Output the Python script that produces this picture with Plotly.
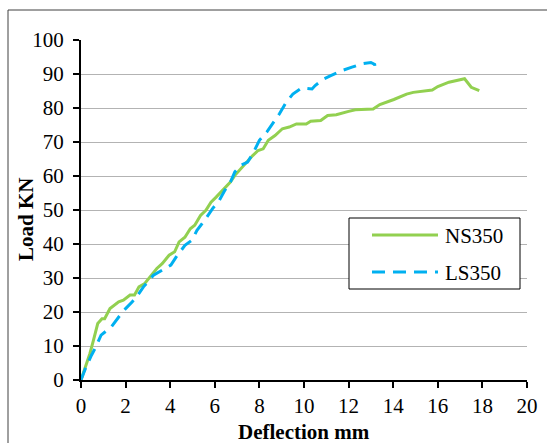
import plotly.graph_objects as go

ns_x = [0, 0.4, 0.56, 0.75, 0.94, 1.06, 1.3, 1.69, 1.9, 2.2, 2.4, 2.6, 2.86, 3.1, 3.4, 3.64,
        3.95, 4.2, 4.4, 4.66, 4.9, 5.1, 5.36, 5.6, 5.83, 6.06, 6.4, 6.7, 6.9, 7.16, 7.47, 7.7,
        7.94, 8.17, 8.4, 8.7, 9.03, 9.34, 9.66, 10.1, 10.3, 10.75, 11.06, 11.45, 12.0, 12.3,
        13.1, 13.4, 14.03, 14.3, 14.6, 14.9, 15.75, 16.0, 16.5, 17.2, 17.5, 17.86]
ns_y = [0, 7.8, 11.7, 16.6, 18, 18, 21, 23, 23.5, 25, 25, 27.4, 28.4, 30.3, 32.8, 34.2,
        36.7, 37.7, 40.6, 42, 44.5, 45.5, 48.4, 49.9, 52.3, 53.8, 56.3, 58.2, 60.2, 62.1, 64.6, 66,
        67.5, 68, 70.5, 71.9, 73.9, 74.4, 75.3, 75.3, 76.1, 76.3, 77.8, 78, 79, 79.5,
        79.7, 81, 82.5, 83.2, 84.1, 84.6, 85.3, 86.3, 87.6, 88.6, 86.1, 85.1]

ls_x = [0, 0.2, 0.47, 0.67, 0.9, 1.37, 1.7, 2.0, 2.3, 2.55, 2.8, 3.25, 3.64, 4.03, 4.27, 4.66,
        4.97, 5.2, 5.6, 5.9, 6.2, 6.45, 6.7, 6.9, 7.16, 7.47, 7.7, 8.0, 8.33, 8.64, 8.9, 9.2,
        9.5, 9.9, 10.36, 10.5, 10.9, 11.2, 11.7, 12.15, 12.6, 13.0, 13.17, 13.2]
ls_y = [0, 3.4, 7.3, 9.8, 13.2, 15.7, 18.6, 21, 23, 25, 27.4, 30.8, 32.3, 33.8, 36.2, 39.6,
        41.1, 44, 47.5, 50.4, 52.8, 55.8, 58.2, 61.2, 63.1, 64.1, 66.5, 70.5, 72.9, 75.8, 78.3, 81.7,
        84.1, 85.9, 85.6, 86.6, 88.6, 89.5, 91, 92, 93, 93.4, 92.8, 91]

names = ["NS350", "LS350"]
colors = ["#92D050", "#00B0F0"]
x_ticks = [0, 2, 4, 6, 8, 10, 12, 14, 16, 18, 20]
y_ticks = [0, 10, 20, 30, 40, 50, 60, 70, 80, 90, 100]

FONT = "Liberation Serif"
DASH = "13px,8px"

fig = go.Figure()
fig.add_trace(go.Scatter(x=ns_x, y=ns_y, mode="lines", name=names[0], showlegend=False,
                         line=dict(color=colors[0], width=3)))
fig.add_trace(go.Scatter(x=ls_x, y=ls_y, mode="lines", name=names[1], showlegend=False,
                         line=dict(color=colors[1], width=3, dash=DASH)))

W, H = 547, 443
L, R, T, B = 81, 20, 40, 63
pw, ph = W - L - R, H - T - B


def px(xp):
    return (xp - L) / pw


def py(yp):
    return (H - B - yp) / ph


shapes = []
shapes.append(dict(type="line", xref="paper", yref="paper", x0=px(8), x1=px(8), y0=py(10), y1=py(460),
                   line=dict(color="#404040", width=1)))
shapes.append(dict(type="line", xref="paper", yref="paper", x0=px(8), x1=px(560), y0=py(10), y1=py(10),
                   line=dict(color="#404040", width=1)))
shapes.append(dict(type="rect", xref="paper", yref="paper", x0=px(349), x1=px(520), y0=py(218), y1=py(289),
                   line=dict(color="black", width=1), fillcolor="white", layer="above"))
shapes.append(dict(type="line", xref="paper", yref="paper", x0=px(372), x1=px(438), y0=py(235), y1=py(235),
                   line=dict(color=colors[0], width=3), layer="above"))
shapes.append(dict(type="line", xref="paper", yref="paper", x0=px(372), x1=px(438), y0=py(272), y1=py(272),
                   line=dict(color=colors[1], width=3, dash=DASH), layer="above"))

annotations = [
    dict(text=names[0], xref="paper", yref="paper", x=px(443), y=py(236), xanchor="left", yanchor="middle",
         showarrow=False, font=dict(family=FONT, size=21, color="black")),
    dict(text=names[1], xref="paper", yref="paper", x=px(443), y=py(273), xanchor="left", yanchor="middle",
         showarrow=False, font=dict(family=FONT, size=21, color="black")),
    dict(text="<b>Deflection mm</b>", xref="paper", yref="paper", x=px(304), y=py(432),
         xanchor="center", yanchor="middle", showarrow=False,
         font=dict(family=FONT, size=21, color="black")),
    dict(text="<b>Load KN</b>", xref="paper", yref="paper", x=px(26), y=py(220), textangle=-90,
         xanchor="center", yanchor="middle", showarrow=False,
         font=dict(family=FONT, size=21, color="black")),
]

fig.update_layout(
    width=W, height=H,
    margin=dict(l=L, r=R, t=T, b=B, autoexpand=False),
    paper_bgcolor="white", plot_bgcolor="white",
    font=dict(family=FONT, size=20, color="black"),
    shapes=shapes, annotations=annotations,
    xaxis=dict(range=[0, 20], tickvals=x_ticks, ticktext=[str(v) for v in x_ticks],
               showgrid=False, zeroline=False, showline=True, linecolor="black", linewidth=2,
               ticks="outside", ticklen=6, tickwidth=2, tickcolor="black", automargin=False,
               tickfont=dict(family=FONT, size=21)),
    yaxis=dict(range=[0, 100], tickvals=y_ticks, ticktext=[str(v) for v in y_ticks],
               showgrid=True, gridcolor="#b3b3b3", gridwidth=1, zeroline=False,
               showline=True, linecolor="black", linewidth=2, automargin=False,
               ticks="outside", ticklen=6, tickwidth=2, tickcolor="black",
               ticklabelstandoff=5,
               tickfont=dict(family=FONT, size=21)),
)

fig.write_html("out.html")
